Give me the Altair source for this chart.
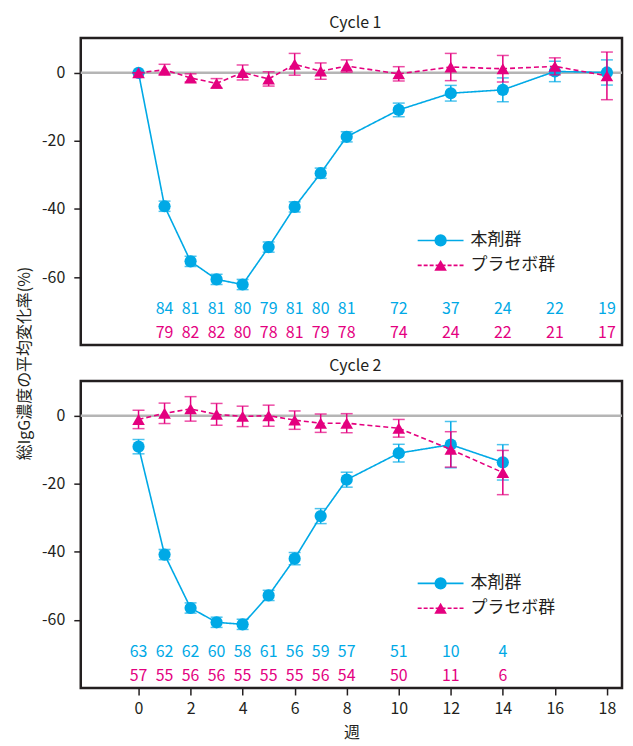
import altair as alt
import pandas as pd

BLUE = "#00A9E6"
PINK = "#E4007F"
DARK = "#231F20"
GRAY = "#B5B5B5"
FONT = "Noto Sans CJK JP"

# ---------------- data ----------------
weeks_c1 = [0, 1, 2, 3, 4, 5, 6, 7, 8, 10, 12, 14, 16, 18]
drug_c1_mean = [0, -39.2, -55.4, -60.7, -62.2, -51.2, -39.4, -29.5, -18.8, -10.9, -6.0, -5.0, 0.4, 0.1]
drug_c1_err = [0, 1.5, 1.5, 1.5, 1.5, 1.5, 1.5, 1.5, 1.5, 2.0, 2.3, 3.5, 3.0, 3.7]
pbo_c1_mean = [0, 0.9, -1.5, -3.1, 0.1, -1.8, 2.5, 0.5, 2.0, -0.3, 1.7, 1.2, 1.9, -0.9]
pbo_c1_err = [0, 1.6, 1.2, 1.4, 2.2, 2.1, 3.2, 2.4, 1.8, 2.1, 4.0, 3.9, 2.5, 7.0]

n_weeks_c1 = [1, 2, 3, 4, 5, 6, 7, 8, 10, 12, 14, 16, 18]
drug_c1_n = [84, 81, 81, 80, 79, 81, 80, 81, 72, 37, 24, 22, 19]
pbo_c1_n = [79, 82, 82, 80, 78, 81, 79, 78, 74, 24, 22, 21, 17]

weeks_c2 = [0, 1, 2, 3, 4, 5, 6, 7, 8, 10, 12, 14]
drug_c2_mean = [-9.1, -40.8, -56.5, -60.7, -61.3, -52.8, -42.0, -29.5, -18.8, -11.0, -8.5, -13.7]
drug_c2_err = [2.1, 1.5, 1.5, 1.5, 1.5, 1.5, 1.8, 2.2, 2.2, 2.6, 6.8, 5.2]
pbo_c2_mean = [-1.1, 0.7, 2.0, 0.4, -0.2, 0.0, -1.3, -2.2, -2.2, -3.7, -9.9, -16.7]
pbo_c2_err = [2.7, 3.0, 3.6, 3.2, 3.0, 3.1, 2.7, 2.7, 2.8, 2.6, 5.2, 6.5]

n_weeks_c2 = [0, 1, 2, 3, 4, 5, 6, 7, 8, 10, 12, 14]
drug_c2_n = [63, 62, 62, 60, 58, 61, 56, 59, 57, 51, 10, 4]
pbo_c2_n = [57, 55, 56, 56, 55, 55, 55, 56, 54, 50, 11, 6]

x_ticks = [0, 2, 4, 6, 8, 10, 12, 14, 16, 18]
y_ticks = [0, -20, -40, -60]
group_names = ["本剤群", "プラセボ群"]
panel_titles = ["Cycle 1", "Cycle 2"]
y_title = "総IgG濃度の平均変化率(%)"
x_title = "週"

W, H = 543, 308
xscale = alt.Scale(domain=[-2.22, 18.58], nice=False, zero=False)
yscale = alt.Scale(domain=[-80, 10.2], nice=False, zero=False)


def frame(weeks, mean, err):
    return pd.DataFrame({
        "week": weeks,
        "mean": mean,
        "lo": [m - e for m, e in zip(mean, err)],
        "hi": [m + e for m, e in zip(mean, err)],
    })


def panel(title, weeks, dm, de, pm, pe, nweeks, dn, pn, bottom, with_ytitle):
    if bottom:
        xaxis = alt.Axis(values=x_ticks, title=x_title, domain=False, grid=False,
                         ticks=True, tickSize=7, tickWidth=1.5, tickColor=DARK,
                         labelFontSize=16, labelColor=DARK, labelPadding=6, labelFont=FONT,
                         titleFontSize=16, titleFontWeight="normal", titleColor=DARK,
                         titlePadding=8, titleFont=FONT)
    else:
        xaxis = None
    yaxis_kw = dict(values=y_ticks, domain=False, grid=False, ticks=True, tickSize=7,
                    tickWidth=1.5, tickColor=DARK, labelFontSize=16, labelColor=DARK,
                    labelPadding=9, labelFont=FONT,
                    labelExpr="datum.value < 0 ? '-' + abs(datum.value) : '' + datum.value")
    if with_ytitle:
        yaxis = alt.Axis(title=y_title, titleX=-56, titleY=326, titleAngle=270,
                         titleAlign="center", titleBaseline="middle", titleFontSize=16,
                         titleFontWeight="normal", titleColor=DARK, titleFont=FONT, **yaxis_kw)
    else:
        yaxis = alt.Axis(title=None, **yaxis_kw)

    X = alt.X("week:Q", scale=xscale, axis=xaxis)

    def Y(field):
        return alt.Y(field, scale=yscale, axis=yaxis)

    d = frame(weeks, dm, de)
    p = frame(weeks, pm, pe)

    zero = alt.Chart(pd.DataFrame({"v": [0]})).mark_rule(color=GRAY, strokeWidth=2.5).encode(
        y=Y("v:Q"))

    def series(df, color, shape, size, dash):
        base = alt.Chart(df)
        line = base.mark_line(color=color, strokeWidth=1.6, strokeDash=dash).encode(x=X, y=Y("mean:Q"))
        bar = base.mark_rule(color=color, strokeWidth=1.5).encode(x=X, y=Y("lo:Q"), y2="hi:Q")
        cap_lo = base.mark_tick(color=color, orient="horizontal", size=12, thickness=1.5).encode(x=X, y=Y("lo:Q"))
        cap_hi = base.mark_tick(color=color, orient="horizontal", size=12, thickness=1.5).encode(x=X, y=Y("hi:Q"))
        pts = base.mark_point(color=color, fill=color, filled=True, shape=shape, size=size,
                              opacity=1, strokeWidth=0).encode(x=X, y=Y("mean:Q"))
        return [line, bar, cap_lo, cap_hi, pts]

    drug_layers = series(d, BLUE, "circle", 150, [1, 0])
    pbo_layers = series(p, PINK, "triangle-up", 160, [5, 3])

    nd = pd.DataFrame({"week": nweeks, "n": dn})
    npb = pd.DataFrame({"week": nweeks, "n": pn})
    ntext_d = alt.Chart(nd).mark_text(color=BLUE, fontSize=16, font=FONT, baseline="middle").encode(
        x=X, y=alt.value(272), text="n:Q")
    ntext_p = alt.Chart(npb).mark_text(color=PINK, fontSize=16, font=FONT, baseline="middle").encode(
        x=X, y=alt.value(296), text="n:Q")

    one = pd.DataFrame({"a": [0]})
    ttl = alt.Chart(one).mark_text(color=DARK, fontSize=16, font=FONT, baseline="middle",
                                   align="center").encode(
        x=alt.value(W / 2 + 4), y=alt.value(-15), text=alt.value(title))
    lg = []
    for i, (name, color, shape, size, dash) in enumerate([
            (group_names[0], BLUE, "circle", 150, [1, 0]),
            (group_names[1], PINK, "triangle-up", 160, [4, 2])]):
        yy = 203 + 25 * i
        lg.append(alt.Chart(one).mark_rule(color=color, strokeWidth=1.6, strokeDash=dash).encode(
            x=alt.value(338), x2=alt.value(384), y=alt.value(yy)))
        lg.append(alt.Chart(one).mark_point(color=color, fill=color, filled=True, shape=shape,
                                            size=size, opacity=1, strokeWidth=0).encode(
            x=alt.value(361), y=alt.value(yy)))
        lg.append(alt.Chart(one).mark_text(color=DARK, fontSize=17, font=FONT, align="left",
                                           baseline="middle").encode(
            x=alt.value(391), y=alt.value(yy), text=alt.value(name)))

    layers = [zero] + drug_layers + pbo_layers + [ntext_d, ntext_p, ttl] + lg
    return alt.layer(*layers).properties(width=W, height=H)


p1 = panel(panel_titles[0], weeks_c1, drug_c1_mean, drug_c1_err, pbo_c1_mean, pbo_c1_err,
           n_weeks_c1, drug_c1_n, pbo_c1_n, bottom=False, with_ytitle=True)
p2 = panel(panel_titles[1], weeks_c2, drug_c2_mean, drug_c2_err, pbo_c2_mean, pbo_c2_err,
           n_weeks_c2, drug_c2_n, pbo_c2_n, bottom=True, with_ytitle=False)

chart = alt.VConcatChart(
    vconcat=[p1, p2], spacing=36, bounds="flush",
    padding={"left": 7, "top": 4, "right": 0, "bottom": 0},
    config=alt.Config(
        font=FONT,
        background="white",
        view=alt.ViewConfig(stroke=DARK, strokeWidth=2.5),
    ),
)

chart.save("out.html", embed_options={"renderer": "svg", "actions": False})
